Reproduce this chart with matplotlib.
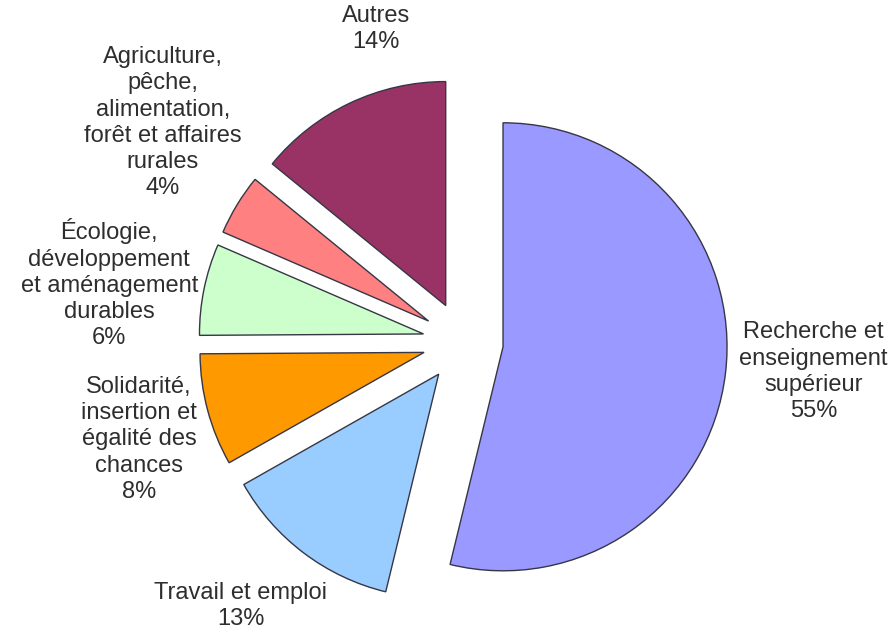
import numpy as np
import matplotlib.pyplot as plt

# ---------- Data ----------
labels = ["Recherche et\nenseignement\nsupérieur",
          "Travail et emploi",
          "Solidarité,\ninsertion et\négalité des\nchances",
          "Écologie,\ndéveloppement\net aménagement\ndurables",
          "Agriculture,\npêche,\nalimentation,\nforêt et affaires\nrurales",
          "Autres"]
pct_text = ["55%", "13%", "8%", "6%", "4%", "14%"]     # as printed
shares = [53.8, 13.0, 8.1, 6.6, 4.4, 14.1]             # wedge sizes
colors = ["#9999ff", "#99ccff", "#ff9900", "#ccffcc", "#ff8080", "#993366"]

# label placement (radius in pie units, angle tweak in degrees)
lab_r  = [1.57, 1.54, 1.51, 1.60, 1.66, 1.45]
lab_dt = [2.0, -3.0, 1.8, 2.2, -4.8, -9.8]

# ---------- Figure ----------
W, H, dpi = 895, 635, 100
fig = plt.figure(figsize=(W / dpi, H / dpi), dpi=dpi)
ax = fig.add_axes([0, 0, 1, 1])

R_px = 224.0               # pie radius in pixels
cx, cy = 463.0, 342.0      # pie centre (pixels from top-left)

wedges, _ = ax.pie(shares, colors=colors, startangle=90, counterclock=False,
                   explode=[0.18] * len(shares),
                   wedgeprops=dict(edgecolor="#363645", linewidth=1.0))

ax.set_xlim(-cx / R_px, (W - cx) / R_px)
ax.set_ylim(-(H - cy) / R_px, cy / R_px)
ax.set_aspect("auto")
ax.axis("off")

for w, lab, pct, r, dt in zip(wedges, labels, pct_text, lab_r, lab_dt):
    th = np.deg2rad((w.theta1 + w.theta2) / 2 + dt)
    ax.text(r * np.cos(th), r * np.sin(th), f"{lab}\n{pct}",
            ha="center", va="center", fontsize=17, linespacing=1.25,
            color="#2e2e2e", family="Liberation Sans")

fig.savefig("out.png", dpi=dpi)
